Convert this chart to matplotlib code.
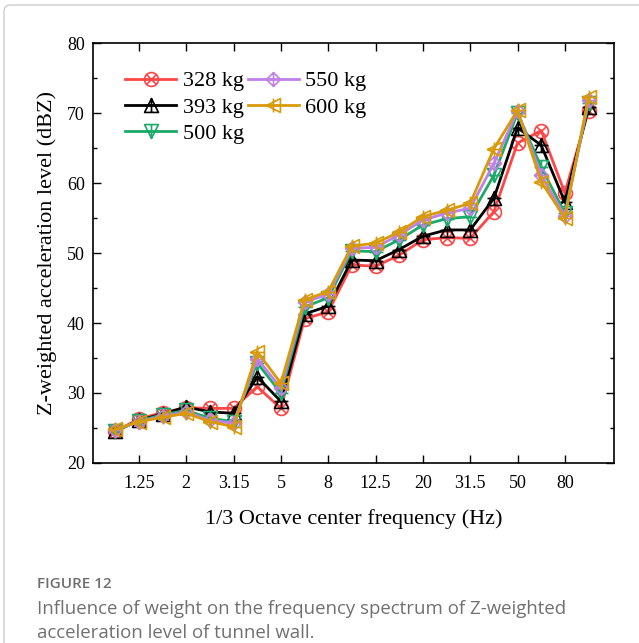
import numpy as np
import matplotlib
matplotlib.use('Agg')
import matplotlib.pyplot as plt
from matplotlib.path import Path
from matplotlib.patches import FancyBboxPatch
from matplotlib.ticker import MultipleLocator

# 1/3 octave band centres (Hz) and Z-weighted levels (dBZ) per train weight
bands  = ['1', '1.25', '1.6', '2', '2.5', '3.15', '4', '5', '6.3', '8', '10',
          '12.5', '16', '20', '25', '31.5', '40', '50', '63', '80', '100']
tick_bands = ['1.25', '2', '3.15', '5', '8', '12.5', '20', '31.5', '50', '80']

w328 = [24.5, 26.3, 27.2, 27.9, 27.8, 27.8, 30.9, 27.8, 40.6, 41.6, 48.3,
        48.1, 49.7, 51.9, 52.2, 52.1, 55.9, 65.7, 67.5, 58.6, 70.3]
w393 = [24.5, 26.1, 27.0, 28.0, 27.3, 27.1, 32.3, 28.8, 41.3, 42.4, 49.0,
        48.9, 50.5, 52.4, 53.3, 53.3, 57.8, 67.9, 65.4, 57.3, 70.8]
w500 = [24.6, 26.0, 26.9, 27.5, 26.4, 25.9, 34.3, 30.0, 42.3, 43.6, 50.3,
        50.2, 51.9, 54.0, 54.9, 55.2, 61.1, 70.0, 62.3, 55.7, 71.4]
w550 = [24.7, 25.9, 26.7, 27.3, 26.1, 25.7, 34.9, 30.7, 43.0, 44.1, 50.7,
        50.8, 52.6, 54.7, 55.7, 56.4, 62.8, 70.3, 61.1, 55.3, 71.9]
w600 = [24.8, 25.9, 26.5, 27.1, 25.9, 25.2, 35.9, 31.4, 43.3, 44.5, 51.0,
        51.4, 53.0, 55.2, 56.1, 57.1, 64.9, 70.4, 60.2, 55.0, 72.3]

labels = ['328 kg', '393 kg', '500 kg', '550 kg', '600 kg']
colors = ['#FF4545', '#000000', '#1AAA6A', '#C080E8', '#D99A0A']


# ------------------------------------------------------------------------------
# open markers with a cross / plus inside
def compound(outline, cross):
    parts = [outline]
    for (a, b) in cross:
        parts.append(Path([a, b], [Path.MOVETO, Path.LINETO]))
    return Path.make_compound_path(*parts)

d = 0.7071
plus = [((-1, 0), (1, 0)), ((0, -1), (0, 1))]
m_circ = compound(Path.unit_circle(), [((-d, -d), (d, d)), ((-d, d), (d, -d))])
m_up   = compound(Path([(0, 1), (-1, -1), (1, -1), (0, 1)], closed=True), plus)
m_down = compound(Path([(0, -1), (-1, 1), (1, 1), (0, -1)], closed=True), plus)
m_diam = compound(Path([(0, 1), (-1, 0), (0, -1), (1, 0), (0, 1)], closed=True), plus)
m_left = compound(Path([(-1, 0), (1, 1), (1, -1), (-1, 0)], closed=True), plus)
markers = [m_circ, m_up, m_down, m_diam, m_left]

series = [w328, w393, w500, w550, w600]

plt.rcParams['font.family'] = ['Liberation Serif', 'DejaVu Serif']

fig = plt.figure(figsize=(6.39, 6.43), dpi=100)
ax  = fig.add_axes([0.1455, 0.280, 0.8155, 0.653])

x = np.arange(len(bands))
for y, lab, col, mk in zip(series, labels, colors, markers):
    ax.plot(x, y, color=col, label=lab, linewidth=2.0, marker=mk,
            markersize=10, markerfacecolor='none', markeredgecolor=col,
            markeredgewidth=1.2)

ax.set_xlim(-0.94, 21.08)
ax.set_ylim(20, 80)
ax.set_xticks([bands.index(b) for b in tick_bands])
ax.set_xticklabels(tick_bands)
ax.yaxis.set_major_locator(MultipleLocator(10))
ax.yaxis.set_minor_locator(MultipleLocator(5))
ax.tick_params(which='both', direction='in', top=True, right=True,
               labelsize=13, width=1.0)
ax.tick_params(which='major', length=6, pad=6)
ax.tick_params(axis='x', which='major', pad=9)
ax.tick_params(which='minor', length=3)
for s in ax.spines.values():
    s.set_linewidth(1.2)

ax.set_xlabel('1/3 Octave center frequency (Hz)', fontsize=16, labelpad=12)
ax.set_ylabel('Z-weighted acceleration level (dBZ)', fontsize=16, labelpad=7)

ax.legend(loc='upper left', bbox_to_anchor=(0.045, 0.955), ncol=2,
          frameon=False, fontsize=16, handlelength=2.3, handletextpad=0.3,
          columnspacing=0.15, labelspacing=0.25, borderaxespad=0)

# card border and caption
fig.patches.append(FancyBboxPatch((4 / 639, -0.1), 1.2, 1.1 - 5 / 643,
                                  boxstyle='round,pad=0,rounding_size=0.01',
                                  transform=fig.transFigure, fill=False,
                                  edgecolor='#CCCCCC', linewidth=1.0))
fig.text(37 / 639, 1 - 584 / 643, 'FIGURE 12', fontsize=11, color='#6E6E6E',
         family=['Open Sans', 'DejaVu Sans'], fontweight='semibold', va='center')
fig.text(37 / 639, 1 - 609 / 643,
         'Influence of weight on the frequency spectrum of Z-weighted',
         fontsize=13.4, color='#707070', family=['Open Sans', 'DejaVu Sans'],
         va='center')
fig.text(37 / 639, 1 - 633 / 643, 'acceleration level of tunnel wall.',
         fontsize=13.4, color='#707070', family=['Open Sans', 'DejaVu Sans'],
         va='center')

fig.savefig('out.png', dpi=100)
